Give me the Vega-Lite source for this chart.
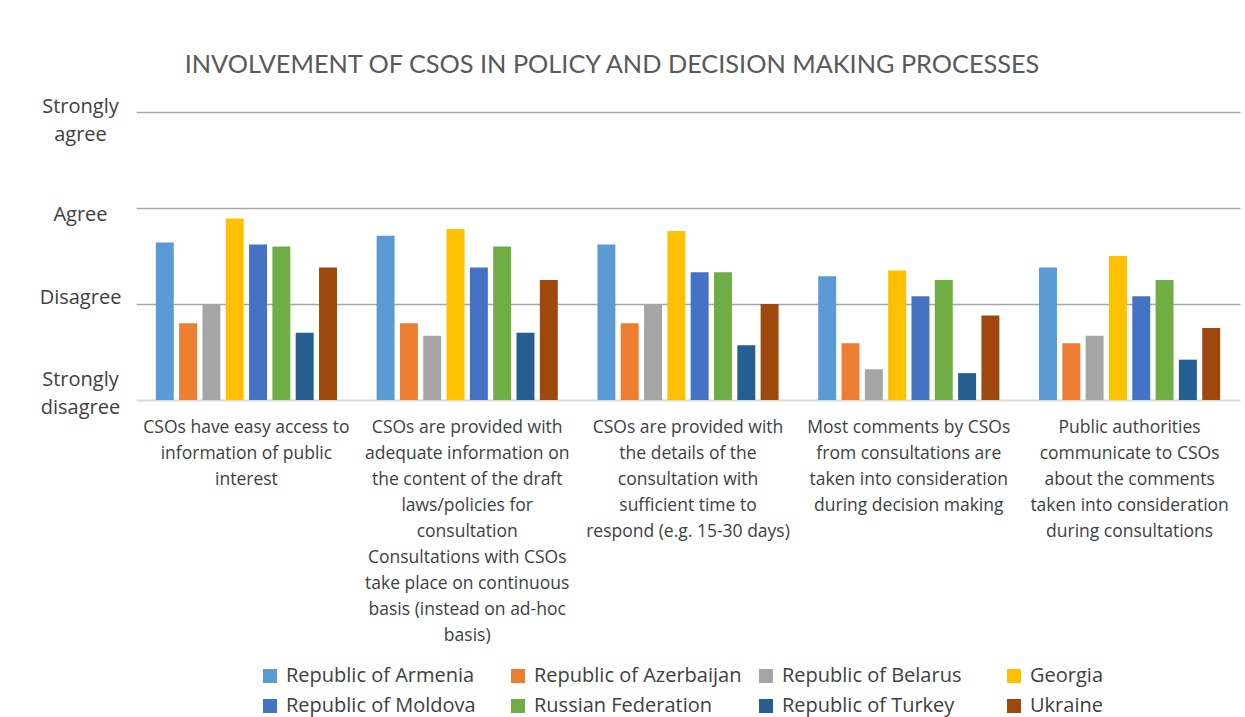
{
  "$schema": "https://vega.github.io/schema/vega-lite/v6.json",
  "autosize": {"type": "none"},
  "padding": {"left": 136, "top": 112, "right": 5, "bottom": 317},
  "width": 1104,
  "height": 288,
  "background": "white",
  "title": {
    "text": "INVOLVEMENT OF CSOS IN POLICY AND DECISION MAKING PROCESSES",
    "font": "Lato",
    "fontSize": 25.3,
    "fontWeight": "normal",
    "color": "#595959",
    "anchor": "middle",
    "frame": "group",
    "dx": -76,
    "offset": 18
  },
  "data": {
    "values": [
      {"question": "CSOs have easy access to information of public interest", "country": "Republic of Armenia", "value": 2.64},
      {"question": "CSOs have easy access to information of public interest", "country": "Republic of Azerbaijan", "value": 1.8},
      {"question": "CSOs have easy access to information of public interest", "country": "Republic of Belarus", "value": 2.0},
      {"question": "CSOs have easy access to information of public interest", "country": "Georgia", "value": 2.89},
      {"question": "CSOs have easy access to information of public interest", "country": "Republic of Moldova", "value": 2.62},
      {"question": "CSOs have easy access to information of public interest", "country": "Russian Federation", "value": 2.6},
      {"question": "CSOs have easy access to information of public interest", "country": "Republic of Turkey", "value": 1.7},
      {"question": "CSOs have easy access to information of public interest", "country": "Ukraine", "value": 2.38},
      {"question": "CSOs are provided with adequate information on the content of the draft laws/policies for consultation Consultations with CSOs take place on continuous basis (instead on ad-hoc basis)", "country": "Republic of Armenia", "value": 2.71},
      {"question": "CSOs are provided with adequate information on the content of the draft laws/policies for consultation Consultations with CSOs take place on continuous basis (instead on ad-hoc basis)", "country": "Republic of Azerbaijan", "value": 1.8},
      {"question": "CSOs are provided with adequate information on the content of the draft laws/policies for consultation Consultations with CSOs take place on continuous basis (instead on ad-hoc basis)", "country": "Republic of Belarus", "value": 1.67},
      {"question": "CSOs are provided with adequate information on the content of the draft laws/policies for consultation Consultations with CSOs take place on continuous basis (instead on ad-hoc basis)", "country": "Georgia", "value": 2.78},
      {"question": "CSOs are provided with adequate information on the content of the draft laws/policies for consultation Consultations with CSOs take place on continuous basis (instead on ad-hoc basis)", "country": "Republic of Moldova", "value": 2.38},
      {"question": "CSOs are provided with adequate information on the content of the draft laws/policies for consultation Consultations with CSOs take place on continuous basis (instead on ad-hoc basis)", "country": "Russian Federation", "value": 2.6},
      {"question": "CSOs are provided with adequate information on the content of the draft laws/policies for consultation Consultations with CSOs take place on continuous basis (instead on ad-hoc basis)", "country": "Republic of Turkey", "value": 1.7},
      {"question": "CSOs are provided with adequate information on the content of the draft laws/policies for consultation Consultations with CSOs take place on continuous basis (instead on ad-hoc basis)", "country": "Ukraine", "value": 2.25},
      {"question": "CSOs are provided with the details of the consultation with sufficient time to respond (e.g. 15-30 days)", "country": "Republic of Armenia", "value": 2.62},
      {"question": "CSOs are provided with the details of the consultation with sufficient time to respond (e.g. 15-30 days)", "country": "Republic of Azerbaijan", "value": 1.8},
      {"question": "CSOs are provided with the details of the consultation with sufficient time to respond (e.g. 15-30 days)", "country": "Republic of Belarus", "value": 2.0},
      {"question": "CSOs are provided with the details of the consultation with sufficient time to respond (e.g. 15-30 days)", "country": "Georgia", "value": 2.76},
      {"question": "CSOs are provided with the details of the consultation with sufficient time to respond (e.g. 15-30 days)", "country": "Republic of Moldova", "value": 2.33},
      {"question": "CSOs are provided with the details of the consultation with sufficient time to respond (e.g. 15-30 days)", "country": "Russian Federation", "value": 2.33},
      {"question": "CSOs are provided with the details of the consultation with sufficient time to respond (e.g. 15-30 days)", "country": "Republic of Turkey", "value": 1.57},
      {"question": "CSOs are provided with the details of the consultation with sufficient time to respond (e.g. 15-30 days)", "country": "Ukraine", "value": 2.0},
      {"question": "Most comments by CSOs from consultations are taken into consideration during decision making", "country": "Republic of Armenia", "value": 2.29},
      {"question": "Most comments by CSOs from consultations are taken into consideration during decision making", "country": "Republic of Azerbaijan", "value": 1.59},
      {"question": "Most comments by CSOs from consultations are taken into consideration during decision making", "country": "Republic of Belarus", "value": 1.32},
      {"question": "Most comments by CSOs from consultations are taken into consideration during decision making", "country": "Georgia", "value": 2.35},
      {"question": "Most comments by CSOs from consultations are taken into consideration during decision making", "country": "Republic of Moldova", "value": 2.08},
      {"question": "Most comments by CSOs from consultations are taken into consideration during decision making", "country": "Russian Federation", "value": 2.25},
      {"question": "Most comments by CSOs from consultations are taken into consideration during decision making", "country": "Republic of Turkey", "value": 1.28},
      {"question": "Most comments by CSOs from consultations are taken into consideration during decision making", "country": "Ukraine", "value": 1.88},
      {"question": "Public authorities communicate to CSOs about the comments taken into consideration during consultations", "country": "Republic of Armenia", "value": 2.38},
      {"question": "Public authorities communicate to CSOs about the comments taken into consideration during consultations", "country": "Republic of Azerbaijan", "value": 1.59},
      {"question": "Public authorities communicate to CSOs about the comments taken into consideration during consultations", "country": "Republic of Belarus", "value": 1.67},
      {"question": "Public authorities communicate to CSOs about the comments taken into consideration during consultations", "country": "Georgia", "value": 2.5},
      {"question": "Public authorities communicate to CSOs about the comments taken into consideration during consultations", "country": "Republic of Moldova", "value": 2.08},
      {"question": "Public authorities communicate to CSOs about the comments taken into consideration during consultations", "country": "Russian Federation", "value": 2.25},
      {"question": "Public authorities communicate to CSOs about the comments taken into consideration during consultations", "country": "Republic of Turkey", "value": 1.42},
      {"question": "Public authorities communicate to CSOs about the comments taken into consideration during consultations", "country": "Ukraine", "value": 1.75}
    ]
  },
  "mark": {"type": "bar"},
  "encoding": {
    "x": {
      "field": "question",
      "type": "nominal",
      "sort": null,
      "scale": {"paddingInner": 0, "paddingOuter": 0},
      "axis": {
        "title": null,
        "labelAngle": 0,
        "ticks": false,
        "domain": false,
        "labelLimit": 400,
        "labelOverlap": false,
        "labelBound": false,
        "labelFont": "Open Sans",
        "labelFontSize": 17.5,
        "labelColor": "#404040",
        "labelLineHeight": 26,
        "labelBaseline": "top",
        "labelPadding": 18,
        "labelExpr": "indexof(datum.value, 'easy access') >= 0 ? ['CSOs have easy access to', 'information of public', 'interest'] : indexof(datum.value, 'adequate information') >= 0 ? ['CSOs are provided with', 'adequate information on', 'the content of the draft', 'laws/policies for', 'consultation', 'Consultations with CSOs', 'take place on continuous', 'basis (instead on ad-hoc', 'basis)'] : indexof(datum.value, 'details of the') >= 0 ? ['CSOs are provided with', 'the details of the', 'consultation with', 'sufficient time to', 'respond (e.g. 15-30 days)'] : indexof(datum.value, 'Most comments') >= 0 ? ['Most comments by CSOs', 'from consultations are', 'taken into consideration', 'during decision making'] : ['Public authorities', 'communicate to CSOs', 'about the comments', 'taken into consideration', 'during consultations']"
      }
    },
    "xOffset": {
      "field": "country",
      "type": "nominal",
      "sort": ["Republic of Armenia", "Republic of Azerbaijan", "Republic of Belarus", "Georgia", "Republic of Moldova", "Russian Federation", "Republic of Turkey", "Ukraine"],
      "scale": {"paddingInner": 0.23, "paddingOuter": 0.85}
    },
    "y": {
      "field": "value",
      "type": "quantitative",
      "scale": {"domain": [1, 4], "zero": false, "nice": false},
      "axis": {
        "title": null,
        "values": [1, 2, 3, 4],
        "ticks": false,
        "tickSize": 0,
        "domain": false,
        "grid": true,
        "gridColor": {"condition": {"test": "datum.value == 1", "value": "#D9D9D9"}, "value": "#A6A6A6"},
        "gridWidth": {"condition": {"test": "datum.value == 1", "value": 2}, "value": 1.5},
        "labelFont": "Open Sans",
        "labelFontSize": 20,
        "labelColor": "#404040",
        "labelAlign": "center",
        "labelBaseline": "middle",
        "labelLineHeight": 28,
        "labelPadding": 56,
        "labelOffset": {"condition": [{"test": "datum.value == 4", "value": -6}, {"test": "datum.value == 3", "value": 6}, {"test": "datum.value == 2", "value": -7}], "value": -21},
        "labelExpr": "datum.value == 4 ? ['Strongly', 'agree'] : datum.value == 3 ? 'Agree' : datum.value == 2 ? 'Disagree' : ['Strongly', 'disagree']"
      }
    },
    "y2": {"datum": 1},
    "color": {
      "field": "country",
      "type": "nominal",
      "scale": {
        "domain": ["Republic of Armenia", "Republic of Azerbaijan", "Republic of Belarus", "Georgia", "Republic of Moldova", "Russian Federation", "Republic of Turkey", "Ukraine"],
        "range": ["#5B9BD5", "#ED7D31", "#A5A5A5", "#FFC000", "#4472C4", "#70AD47", "#255E91", "#9E480E"]
      },
      "legend": {
        "title": null,
        "orient": "none",
        "legendX": 124,
        "legendY": 554,
        "padding": 0,
        "direction": "horizontal",
        "columns": 4,
        "gridAlign": "all",
        "columnPadding": 14,
        "rowPadding": 10,
        "symbolType": "square",
        "symbolSize": 196,
        "symbolStrokeWidth": 0,
        "labelFont": "Open Sans",
        "labelFontSize": 20,
        "labelColor": "#404040",
        "labelOffset": 6,
        "labelLimit": 300
      }
    }
  },
  "config": {
    "view": {"stroke": null}
  }
}
